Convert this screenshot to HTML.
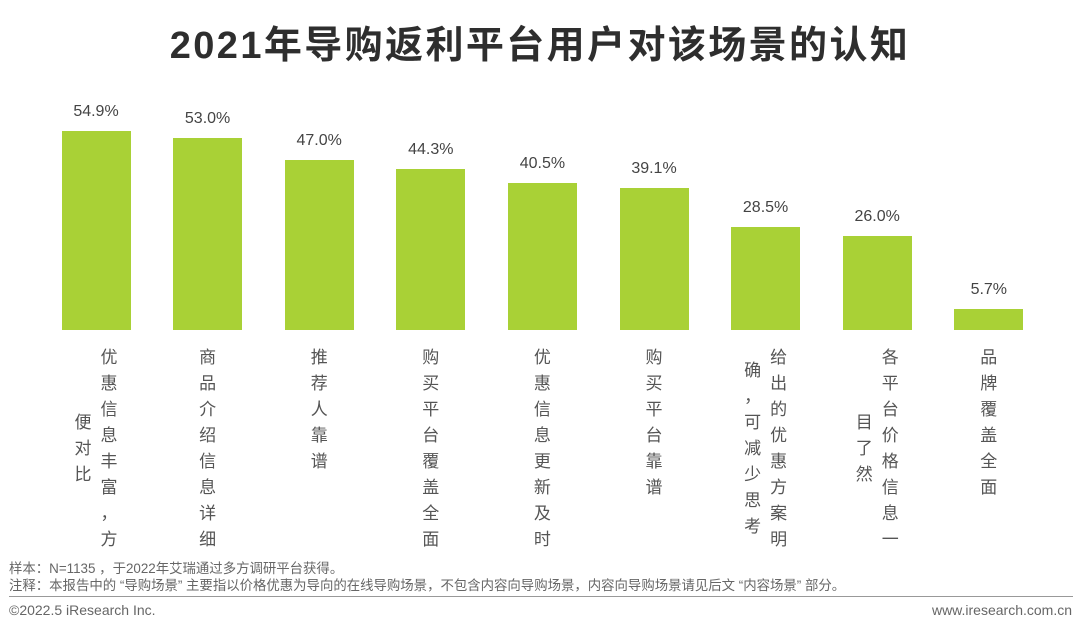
<!DOCTYPE html>
<html><head><meta charset="utf-8">
<style>
body{margin:0;width:1080px;height:640px;background:#fff;font-family:"Liberation Sans","Noto Sans CJK SC",sans-serif;overflow:hidden;position:relative;color:#555}
#title{position:absolute;top:14px;left:0;width:1080px;text-align:center;font-size:38px;font-weight:bold;color:#2e2e2e;letter-spacing:2.4px}
.val{position:absolute;width:100px;text-align:center;font-size:16px;color:#444}
.bar{position:absolute;background:#a9d136}
.lab{position:absolute;top:345px;width:100px;display:flex;flex-direction:row-reverse;justify-content:center;align-items:center;gap:8px}
.col{display:flex;flex-direction:column;align-items:center;font-size:17px;color:#555;width:18px}
.col span{height:26px;line-height:26px}
.note{position:absolute;left:9px;font-size:13.4px;color:#666;white-space:nowrap}
</style></head><body>
<div id="title">2021年导购返利平台用户对该场景的认知</div>
<div id="chart"></div>
<div class="note" style="top:557px">样本：N=1135 ，于2022年艾瑞通过多方调研平台获得。</div>
<div class="note" style="top:574px">注释：本报告中的 “导购场景” 主要指以价格优惠为导向的在线导购场景，不包含内容向导购场景，内容向导购场景请见后文 “内容场景” 部分。</div>
<div style="position:absolute;left:9px;top:596px;width:1064px;height:1px;background:#999"></div>
<div class="note" style="top:602px;font-size:14px">©2022.5 iResearch Inc.</div>
<div class="note" style="top:602px;left:auto;right:8px;font-size:14px">www.iresearch.com.cn</div>
<script>
const categories=[["优惠信息丰富，方","便对比"],["商品介绍信息详细"],["推荐人靠谱"],["购买平台覆盖全面"],["优惠信息更新及时"],["购买平台靠谱"],["给出的优惠方案明","确，可减少思考"],["各平台价格信息一","目了然"],["品牌覆盖全面"]];
const values=[54.9,53.0,47.0,44.3,40.5,39.1,28.5,26.0,5.7];
const valueLabels=["54.9%","53.0%","47.0%","44.3%","40.5%","39.1%","28.5%","26.0%","5.7%"];
const chart=document.getElementById('chart');
const base=330,scale=3.625,x0=96,step=111.6,bw=69;
const xPos=i=>x0+i*step;
const yPos=v=>base-v*scale;
values.forEach((v,i)=>{
  const cx=xPos(i);
  const b=document.createElement('div');b.className='bar';
  
  
  b.style.left=(cx-bw/2)+'px';b.style.top=yPos(v)+'px';b.style.width=bw+'px';b.style.height=(base-yPos(v))+'px';
  chart.appendChild(b);
  const t=document.createElement('div');t.className='val';
  
  
  t.style.left=(cx-50)+'px';t.style.top=(yPos(v)-28)+'px';t.textContent=valueLabels[i];
  chart.appendChild(t);
  const l=document.createElement('div');l.className='lab';
  
  
  l.style.left=(cx-50)+'px';
  categories[i].forEach(s=>{
    const c=document.createElement('div');c.className='col';
    for(const ch of s){const sp=document.createElement('span');sp.textContent=ch;c.appendChild(sp);}
    l.appendChild(c);
  });
  chart.appendChild(l);
});
</script>
</body></html>
